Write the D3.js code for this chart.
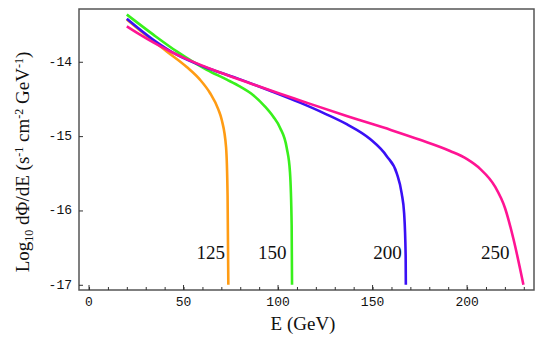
<!DOCTYPE html>
<html>
<head>
<meta charset="utf-8">
<script src="https://cdn.jsdelivr.net/npm/d3@7"></script>
<style>
  body { margin: 0; background: #fff; }
  svg text { fill: #111; }
</style>
</head>
<body>
<svg id="chart" width="545" height="346"></svg>
<script>
// spectra: [E (GeV), log10 dPhi/dE]
var orange125 = [[20, -13.43], [30, -13.64], [41.1, -13.86], [51.7, -14.07], [58.7, -14.24], [64.0, -14.42],
    [68.4, -14.64], [70.2, -14.78], [72.5, -15.15], [73.3, -15.8], [73.7, -17.0]];
var green150 = [[20, -13.365], [34.0, -13.635], [46.4, -13.861], [62.3, -14.108], [72.9, -14.24], [80, -14.335],
    [86.9, -14.45], [93, -14.6], [97.5, -14.74], [101.1, -14.89], [104.6, -15.16], [106.3, -15.48],
    [107.2, -16.2], [107.4, -17.0]];
var blue200 = [[20, -13.42], [34.0, -13.703], [46.4, -13.905], [60.5, -14.064], [78.1, -14.22], [95.8, -14.39],
    [111.6, -14.55], [125, -14.70], [136.3, -14.84], [148.7, -15.04], [157.5, -15.27], [162.8, -15.50],
    [165.4, -15.77], [166.7, -16.04], [167.5, -16.6], [167.6, -17.0]];
var pink250 = [[20, -13.523], [27, -13.635], [34, -13.74], [42.9, -13.86], [51.7, -13.965], [69.3, -14.145],
    [86.9, -14.305], [101.1, -14.43], [111.6, -14.52], [136.3, -14.73], [160, -14.92], [175.1, -15.05],
    [191, -15.2], [200, -15.31], [206.9, -15.44], [214.8, -15.68], [220.1, -15.97], [224.5, -16.38], [229.8, -17.0]];

var masses = ["125", "150", "200", "250"];
var colors = ["#ff9c14", "#39f01c", "#3a10f5", "#ff1493"];
var labelE = [72, 104.5, 165.5, 222.5];

var xTicks = [0, 50, 100, 150, 200];
var yTicks = [-14, -15, -16, -17];

var width = 545, height = 346;
var margin = { top: 9, right: 11, bottom: 56, left: 79 };

var svg = d3.select("#chart");

var x = d3.scaleLinear()
    .domain([-5.3, 235.4])
    .range([margin.left, width - margin.right]);

var y = d3.scaleLinear()
    .domain([-17.07, -13.29])
    .range([height - margin.bottom, margin.top]);

// frame
svg.append("rect")
    .attr("x", margin.left)
    .attr("y", margin.top)
    .attr("width", width - margin.left - margin.right)
    .attr("height", height - margin.top - margin.bottom)
    .attr("fill", "none")
    .attr("stroke", "#555")
    .attr("stroke-width", 1.5);

// x axis, ticks pointing inward
var xAxis = svg.append("g")
    .attr("transform", "translate(0," + (height - margin.bottom) + ")")
    .call(d3.axisTop(x).tickValues(d3.range(0, 231, 10)).tickSize(3).tickFormat(""));
xAxis.select(".domain").remove();
xAxis.selectAll("line").attr("stroke", "#333");

svg.append("g")
    .selectAll("line")
    .data(xTicks)
    .enter().append("line")
    .attr("x1", d => x(d)).attr("x2", d => x(d))
    .attr("y1", height - margin.bottom).attr("y2", height - margin.bottom - 5)
    .attr("stroke", "#333");

svg.append("g")
    .selectAll("text")
    .data(xTicks)
    .enter().append("text")
    .attr("x", d => x(d))
    .attr("y", height - margin.bottom + 16)
    .attr("text-anchor", "middle")
    .style("font-family", "Liberation Mono, monospace")
    .style("font-size", "13px")
    .text(d => d);

// y axis
var yAxis = svg.append("g")
    .attr("transform", "translate(" + margin.left + ",0)")
    .call(d3.axisRight(y).tickValues(yTicks).tickSize(4).tickFormat(""));
yAxis.select(".domain").remove();
yAxis.selectAll("line").attr("stroke", "#333");

svg.append("g")
    .selectAll("text")
    .data(yTicks)
    .enter().append("text")
    .attr("x", margin.left - 7)
    .attr("y", d => y(d) + 4)
    .attr("text-anchor", "end")
    .style("font-family", "Liberation Mono, monospace")
    .style("font-size", "13px")
    .text(d => "-" + Math.abs(d));

// axis titles
svg.append("text")
    .attr("x", 303)
    .attr("y", 330)
    .attr("text-anchor", "middle")
    .style("font-family", "Liberation Serif, serif")
    .style("font-size", "19px")
    .text("E (GeV)");

var yTitle = svg.append("text")
    .attr("transform", "translate(29,162) rotate(-90)")
    .attr("text-anchor", "middle")
    .style("font-family", "Liberation Serif, serif")
    .style("font-size", "19px");
yTitle.append("tspan").text("Log");
yTitle.append("tspan").attr("dy", 4).style("font-size", "12px").text("10");
yTitle.append("tspan").attr("dy", -4).text(" dΦ/dE (s");
yTitle.append("tspan").attr("dy", -6).style("font-size", "12px").text("-1");
yTitle.append("tspan").attr("dy", 6).text(" cm");
yTitle.append("tspan").attr("dy", -6).style("font-size", "12px").text("-2");
yTitle.append("tspan").attr("dy", 6).text(" GeV");
yTitle.append("tspan").attr("dy", -6).style("font-size", "12px").text("-1");
yTitle.append("tspan").attr("dy", 6).text(")");

// curves
var line = d3.line()
    .x(d => x(d[0]))
    .y(d => y(d[1]))
    .curve(d3.curveMonotoneX);

var series = [orange125, green150, blue200, pink250];
// drawn so that pink sits on top like the reference
[0, 1, 2, 3].forEach(function(i) {
    svg.append("path")
        .datum(series[i])
        .attr("d", line)
        .attr("fill", "none")
        .attr("stroke", colors[i])
        .attr("stroke-width", 2.6);
});

// mass labels
svg.append("g")
    .selectAll("text")
    .data(masses)
    .enter().append("text")
    .attr("x", (d, i) => x(labelE[i]))
    .attr("y", y(-16.65))
    .attr("text-anchor", "end")
    .style("font-family", "Liberation Serif, serif")
    .style("font-size", "19px")
    .text(d => d);
</script>
</body>
</html>
